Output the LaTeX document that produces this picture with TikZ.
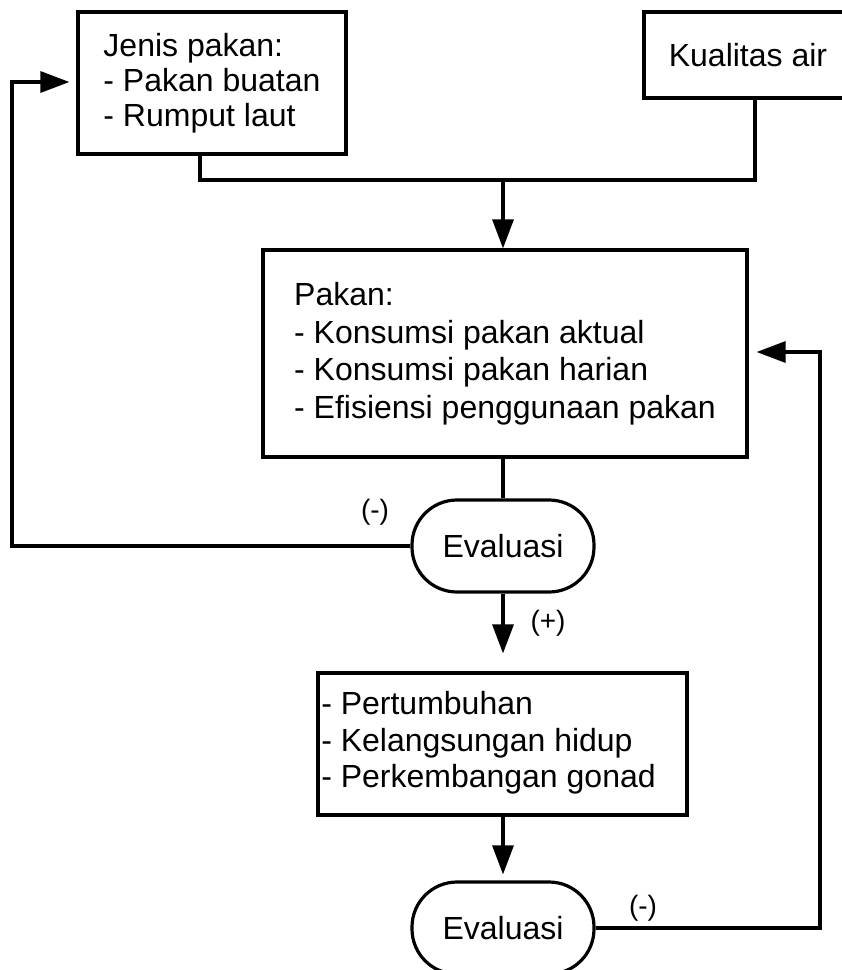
\documentclass[tikz,border=0pt]{standalone}
\usepackage{fontspec}
\setmainfont{Liberation Sans}
\usetikzlibrary{arrows.meta}
\begin{document}
\begin{tikzpicture}[x=1pt,y=-1pt,
  every node/.style={font=\fontsize{32}{35}\selectfont},
  ln/.style={line width=3.2pt},
  arr/.style={ln,-{Triangle[length=29pt,width=21pt]}},
  box/.style={draw,ln,rectangle,inner sep=0pt},
  evalbox/.style={draw,ln,rectangle,rounded corners=45pt,minimum width=182pt,minimum height=92pt,inner sep=0pt},
  sign/.style={font=\fontsize{28}{30}\selectfont,inner sep=0pt}]
\useasboundingbox (0,0) rectangle (842,970);
% boxes
\node[box,align=left,minimum width=268pt,minimum height=142pt] (b1) at (212,83) {Jenis pakan:\\- Pakan buatan\\- Rumput laut};
\node[box,minimum width=208pt,minimum height=86pt] (b2) at (748,55) {Kualitas air};
\node[box,align=left,minimum width=484pt,minimum height=207pt,font=\fontsize{32}{37.5}\selectfont] (b3) at (505,353.5) {Pakan:\\- Konsumsi pakan aktual\\- Konsumsi pakan harian\\- Efisiensi penggunaan pakan};
\node[evalbox] (e1) at (503,546) {Evaluasi};
\node[box,minimum width=369pt,minimum height=142pt,font=\fontsize{32}{36.5}\selectfont] (b4) at (502.5,744) {\begin{tabular}{@{}l@{\hspace{28pt}}}- Pertumbuhan\\- Kelangsungan hidup\\- Perkembangan gonad\end{tabular}};
\node[evalbox] (e2) at (503,928) {Evaluasi};
% junction points
\coordinate (j1) at (200,180);
\coordinate (j2) at (755,180);
\coordinate (jm) at (503,180);
\coordinate (l1) at (12,546);
\coordinate (l2) at (12,82);
\coordinate (r1) at (820,928);
\coordinate (r2) at (820,352);
% connectors
\draw[ln] (b1.south -| j1) |- (j2) -- (b2.south -| j2);
\draw[arr] (jm) -- (b3.north -| jm);
\draw[ln] (b3.south -| e1) -- (e1.north);
\draw[arr,shorten >=7pt] (e1.west) -- (l1) -- (l2) -- (b1.west |- l2);
\draw[arr,shorten >=18pt] (e1.south) -- (b4.north -| e1);
\draw[arr,shorten >=6pt] (b4.south -| e2) -- (e2.north);
\draw[arr,shorten >=8pt] (e2.east) -- (r1) -- (r2) -- (b3.east |- r2);
% labels
\node[sign] (m1) at (375,512) {(-)};
\node[sign] (p1) at (548,623) {(+)};
\node[sign] (m2) at (643,908) {(-)};
\end{tikzpicture}
\end{document}
